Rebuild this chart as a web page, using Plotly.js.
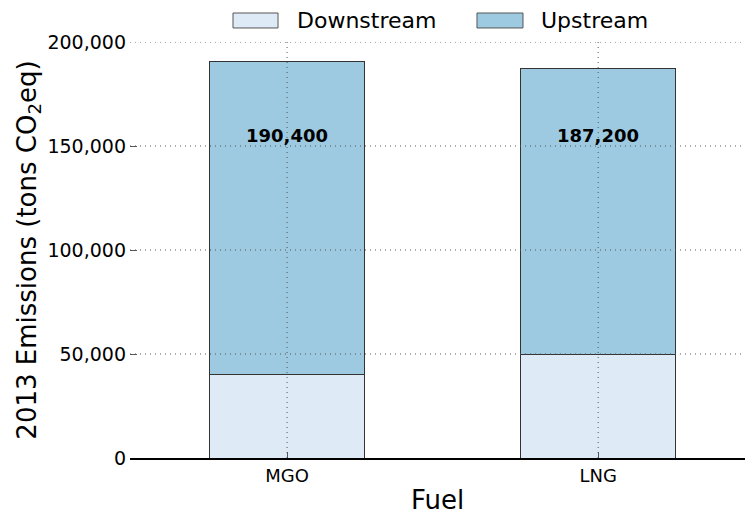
<!DOCTYPE html>
<html>
<head>
<meta charset="utf-8">
<script src="https://cdn.plot.ly/plotly-3.0.1.min.js"></script>
<style>html,body{margin:0;padding:0;overflow:hidden;background:#fff;}#chart{width:745px;height:515px;}</style>
</head>
<body>
<div id="chart"></div>
<script>
const fuels = ["MGO", "LNG"];
const downstream = [40000, 50000];
const upstream = [150400, 137200];
const seriesNames = ["Downstream", "Upstream"];
const seriesColors = ["#deebf7", "#9ecae1"];
const yTickVals = [0, 50000, 100000, 150000, 200000];
const yTickText = ["0", "50,000", "100,000", "150,000", "200,000"];

const totals = fuels.map((f, i) => downstream[i] + upstream[i]);
const FONT = "DejaVu Sans, sans-serif";
const lineStyle = {color: "#333333", width: 1};

const traces = [
  {type: "bar", name: seriesNames[0], x: fuels, y: downstream, width: 0.5,
   marker: {color: seriesColors[0], line: lineStyle}},
  {type: "bar", name: seriesNames[1], x: fuels, y: upstream, width: 0.5,
   marker: {color: seriesColors[1], line: lineStyle}}
];

const gridStyle = {color: "#555555", width: 1, dash: "1px,4px"};
const shapes = [];
yTickVals.slice(1).forEach(v => shapes.push({type: "line", layer: "above", xref: "paper", yref: "y",
  x0: 0, x1: 1, y0: v, y1: v, line: gridStyle}));
fuels.forEach(f => shapes.push({type: "line", layer: "above", xref: "x", yref: "paper",
  x0: f, x1: f, y0: 0, y1: 1, line: gridStyle}));

// custom legend (matplotlib-style wide patches)
const legendPatchX = [[0.1675, 0.2407], [0.5642, 0.639]];
const legendTextX = [0.2675, 0.665];
seriesNames.forEach((n, i) => shapes.push({type: "rect", xref: "paper", yref: "paper",
  x0: legendPatchX[i][0], x1: legendPatchX[i][1], y0: 1.0337, y1: 1.0697,
  fillcolor: seriesColors[i], line: {color: "#555555", width: 1}}));

const annotations = fuels.map((f, i) => ({
  x: f, xref: "x", y: 0.776, yref: "paper", yanchor: "middle", showarrow: false,
  text: "<b>" + totals[i].toLocaleString("en-US") + "</b>",
  font: {family: FONT, size: 18, color: "#000"}
}));
seriesNames.forEach((n, i) => annotations.push({
  x: legendTextX[i], xref: "paper", xanchor: "left", y: 1.0517, yref: "paper", yanchor: "middle",
  showarrow: false, text: n, font: {family: FONT, size: 22, color: "#000"}
}));

const layout = {
  width: 745, height: 515,
  margin: {l: 130, r: 0, t: 42, b: 57},
  barmode: "stack",
  paper_bgcolor: "#fff", plot_bgcolor: "#fff",
  font: {family: FONT, color: "#000"},
  showlegend: false,
  xaxis: {
    type: "category", range: [-0.505, 1.472],
    showgrid: false, zeroline: false,
    showline: true, linecolor: "#000", linewidth: 2, mirror: false,
    ticks: "inside", ticklen: 6, tickcolor: "#555",
    tickfont: {family: FONT, size: 18},
    title: {text: "Fuel", font: {family: FONT, size: 26}, standoff: 6}
  },
  yaxis: {
    range: [0, 200000], tickvals: yTickVals, ticktext: yTickText,
    showgrid: false, zeroline: false, showline: false,
    ticks: "inside", ticklen: 7, tickcolor: "#555",
    ticklabelstandoff: 3,
    tickfont: {family: FONT, size: 19},
    title: {text: "2013 Emissions (tons CO<sub>2</sub>eq)", font: {family: FONT, size: 26}, standoff: 3}
  },
  shapes: shapes,
  annotations: annotations
};

Plotly.newPlot("chart", traces, layout, {displayModeBar: false, staticPlot: true});
</script>
</body>
</html>
